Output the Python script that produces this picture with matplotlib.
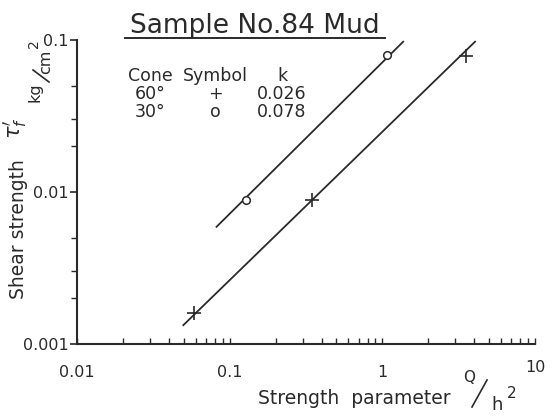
import matplotlib
matplotlib.use("Agg")
import matplotlib.pyplot as plt
from matplotlib.lines import Line2D
from matplotlib.transforms import ScaledTranslation
from matplotlib.ticker import LogLocator, NullFormatter, FixedLocator, FixedFormatter

# points
cone60_q = [0.058, 0.344, 3.53]
cone60_tau = [0.00159, 0.00886, 0.0786]
cone30_q = [0.127, 1.07]
cone30_tau = [0.0088, 0.0796]

# fitted lines (end points)
line60_q = [0.0497, 4.05]
line60_tau = [0.00133, 0.0975]
line30_q = [0.082, 1.37]
line30_tau = [0.0059, 0.0975]

key_cone = ["Cone", "60°", "30°"]
key_symbol = ["Symbol", "+", "o"]
key_k = ["k", "0.026", "0.078"]

xticks = [0.01, 0.1, 1, 10]
xlabels = ["0.01", "0.1", "1", "10"]
yticks = [0.001, 0.01, 0.1]
ylabels = ["0.001", "0.01", "0.1"]

ink = "#2a2a2a"
W, H = 560, 417


def px(x, y):
    # pixel position (from top-left) -> figure fraction
    return x / W, 1 - y / H


def slash(x0, y0, x1, y1):
    fig.add_artist(Line2D([x0 / W, x1 / W], [1 - y0 / H, 1 - y1 / H], color=ink, lw=1.2))


fig = plt.figure(figsize=(5.6, 4.17), dpi=100)
ax = fig.add_axes([77 / W, 1 - 344 / H, (535 - 77) / W, (344 - 40) / H])
ax.set_xscale("log")
ax.set_yscale("log")
ax.set_xlim(0.01, 10)
ax.set_ylim(0.001, 0.1)

ax.plot(line60_q, line60_tau, color=ink, lw=1.3)
ax.plot(line30_q, line30_tau, color=ink, lw=1.3)
ax.plot(cone60_q, cone60_tau, ls="none", marker="+", ms=10, mew=1.2, color=ink)
ax.plot(cone30_q, cone30_tau, ls="none", marker="o", ms=5.5, mew=1.1, mfc="white", mec=ink)

for s in ["top", "right"]:
    ax.spines[s].set_visible(False)
for s in ["left", "bottom"]:
    ax.spines[s].set_linewidth(1.5)
    ax.spines[s].set_color(ink)

ax.xaxis.set_major_locator(FixedLocator(xticks))
ax.xaxis.set_major_formatter(FixedFormatter(xlabels))
ax.xaxis.set_minor_locator(LogLocator(base=10, subs=range(2, 10)))
ax.xaxis.set_minor_formatter(NullFormatter())
ax.yaxis.set_major_locator(FixedLocator(yticks))
ax.yaxis.set_major_formatter(FixedFormatter(ylabels))
ax.yaxis.set_minor_locator(LogLocator(base=10, subs=[2, 3, 5]))
ax.yaxis.set_minor_formatter(NullFormatter())

ax.tick_params(axis="x", which="both", direction="in", length=4, width=1, colors=ink,
               labelsize=11.5, pad=15)
ax.tick_params(axis="y", which="major", direction="out", length=5, width=1.2, colors=ink,
               labelsize=11.5, pad=1)
ax.tick_params(axis="y", which="minor", direction="out", length=4, width=1, colors=ink)

# the "10" label sits a little higher in the original
fig.canvas.draw()
lab10 = ax.get_xticklabels()[-1]
lab10.set_transform(lab10.get_transform() + ScaledTranslation(0, 0.045, fig.dpi_scale_trans))

# x axis label  "Strength parameter Q/h2"
fig.text(*px(258, 399), "Strength  parameter", fontsize=13.5, color=ink, ha="left", va="center")
fig.text(*px(469, 377), "Q", fontsize=11, color=ink, ha="center", va="center")
slash(472, 407, 487, 380)
fig.text(*px(497, 405), "h", fontsize=13, color=ink, ha="center", va="center")
fig.text(*px(512, 394), "2", fontsize=11, color=ink, ha="center", va="center")

# y axis label  "Shear strength tau'_f kg/cm2"
fig.text(*px(19, 229), "Shear strength", fontsize=13.5, color=ink, rotation=90,
         ha="center", va="center")
fig.text(*px(15, 128), r"$\tau_f^{\prime}$", fontsize=15, color=ink, rotation=90,
         ha="center", va="center")
fig.text(*px(35, 92), "kg", fontsize=11.5, color=ink, rotation=90, ha="center", va="center")
slash(49, 82, 33, 70)
fig.text(*px(46, 62), "cm", fontsize=11.5, color=ink, rotation=90, ha="center", va="center")
fig.text(*px(34, 44), "2", fontsize=10, color=ink, rotation=90, ha="center", va="center")

# title with underline
fig.text(*px(255, 26), "Sample No.84 Mud", fontsize=19, color=ink, ha="center", va="center")
fig.add_artist(Line2D([125 / W, 385 / W], [1 - 38 / H, 1 - 38 / H], color=ink, lw=1.4))

# key table, one column per text
for col, cx in [(key_cone, 150), (key_symbol, 215), (key_k, 282)]:
    fig.text(*px(cx, 94), "\n".join(col), fontsize=12.5, color=ink, ha="center",
             va="center", multialignment="center", linespacing=1.0)

fig.savefig("out.png", dpi=100)
